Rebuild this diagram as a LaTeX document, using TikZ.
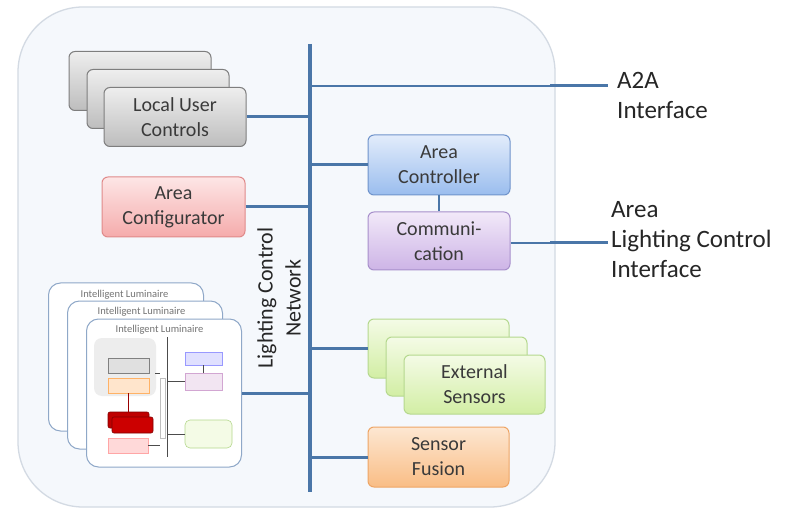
\documentclass[tikz,border=0pt]{standalone}
\usepackage{fontspec}
\setmainfont{Carlito}
\definecolor{busc}{HTML}{4A76A8}
\definecolor{txt}{HTML}{3A3A3A}
\definecolor{contf}{HTML}{F5F8FC}
\definecolor{contb}{HTML}{D3DAE3}
\definecolor{lumb}{HTML}{8FA8C8}
\definecolor{grT}{HTML}{EEEEEE}\definecolor{grB}{HTML}{BDBDBD}\definecolor{grD}{HTML}{7E7E7E}
\definecolor{piT}{HTML}{FDE6E6}\definecolor{piB}{HTML}{F5ABAB}\definecolor{piD}{HTML}{E08A8A}
\definecolor{blT}{HTML}{E2ECFB}\definecolor{blB}{HTML}{9ABDEE}\definecolor{blD}{HTML}{6F93CB}
\definecolor{puT}{HTML}{F2E9F9}\definecolor{puB}{HTML}{CDB4E6}\definecolor{puD}{HTML}{A78FCB}
\definecolor{gnT}{HTML}{F4FBE6}\definecolor{gnB}{HTML}{D2EEA4}\definecolor{gnD}{HTML}{B5D88E}
\definecolor{orT}{HTML}{FDE7D2}\definecolor{orB}{HTML}{F9BD85}\definecolor{orD}{HTML}{EEA565}
\begin{document}
\begin{tikzpicture}[x=1pt,y=-1pt,
  box/.style={draw, rounded corners=6pt, minimum width=142pt, minimum height=59pt,
    align=center, font=\fontsize{20}{25}\selectfont, text=txt, line width=1pt, inner sep=0pt},
  greybox/.style={box, draw=grD, top color=grT, bottom color=grB},
  pinkbox/.style={box, draw=piD, top color=piT, bottom color=piB},
  bluebox/.style={box, draw=blD, top color=blT, bottom color=blB},
  purplebox/.style={box, draw=puD, top color=puT, bottom color=puB},
  greenbox/.style={box, draw=gnD, top color=gnT, bottom color=gnB},
  orangebox/.style={box, draw=orD, top color=orT, bottom color=orB},
  busline/.style={draw=busc, line width=3.5pt},
  conn/.style={draw=busc, line width=3pt},
  thinconn/.style={draw=busc, line width=1.1pt},
  lumbox/.style={draw=lumb, fill=white, rounded corners=12pt, line width=1pt,
    minimum width=155pt, minimum height=148pt},
  lumtitle/.style={font=\fontsize{10.5}{12}\selectfont, text=black!55, inner sep=0pt},
  mini/.style={draw, line width=0.6pt, inner sep=0pt},
  minicon/.style={draw=black!70, line width=0.6pt},
  label/.style={font=\fontsize{25}{30}\selectfont, text=black!85, align=left, anchor=west, inner sep=0pt}
]
\useasboundingbox (0,0) rectangle (794,518);
\fill[white] (0,0) rectangle (794,518);
% container
\draw[draw=contb, fill=contf, line width=1.3pt, rounded corners=65pt] (18,7) rectangle (555,507);

% bus
\coordinate (bt) at (310,44);
\coordinate (bb) at (310,492);
\draw[busline] (bt) -- (bb);

% Local user controls
\node[greybox] (luc1) at (140,81) {};
\node[greybox] (luc2) at (158,99) {};
\node[greybox] (luc) at (175,117) {Local User\\Controls};
\draw[conn] (luc.east) -- (luc.east -| bt);

% A2A
\coordinate (a2aknee) at (550,86);
\coordinate (a2aend) at (608,86);
\draw[thinconn] (a2aknee -| bt) -- (a2aknee);
\draw[conn] (a2aknee) -- (a2aend);
\node[label] (a2a) at (617,95) {A2A\\Interface};

% Area configurator
\node[pinkbox, minimum width=143pt, minimum height=60pt] (cfg) at (173.5,207) {Area\\Configurator};
\draw[conn] (cfg.east) -- (cfg.east -| bt);

% Area controller & communication
\node[bluebox, minimum height=60pt] (ac) at (439,165) {Area\\Controller};
\node[purplebox, minimum height=58pt] (com) at (439,241) {Communi-\\cation};
\draw[conn] (ac.west -| bt) -- (ac.west);
\draw[draw=busc, line width=2.5pt] (ac.south) -- (com.north);
\coordinate (alknee) at (550,243);
\coordinate (alend) at (608,243);
\draw[thinconn] (com.east |- alknee) -- (alknee);
\draw[conn] (alknee) -- (alend);
\node[label] (alci) at (611,240) {Area\\Lighting Control\\Interface};

% Network label
\node[rotate=90, align=center, font=\fontsize{22}{28}\selectfont, text=black!85] (lcn) at (279,298) {Lighting Control\\Network};

% External sensors
\node[greenbox, minimum width=141pt] (es1) at (438.5,348.5) {};
\node[greenbox, minimum width=141pt] (es2) at (456.5,366.5) {};
\node[greenbox, minimum width=141pt] (es) at (474.5,384.5) {External\\Sensors};
\draw[conn] (es1.west -| bt) -- (es1.west);

% Sensor fusion
\node[orangebox, minimum width=141pt, minimum height=60pt] (sf) at (438.5,457) {Sensor\\Fusion};
\draw[conn] (sf.west -| bt) -- (sf.west);

% Intelligent luminaires
\node[lumbox] (lum1) at (126,357) {};
\node[lumtitle] (lt1) at (124.5,295) {Intelligent Luminaire};
\node[lumbox] (lum2) at (145,375) {};
\node[lumtitle] (lt2) at (141.5,312) {Intelligent Luminaire};
\node[lumbox] (lum) at (164,393) {};
\node[lumtitle] (lt3) at (159.5,330) {Intelligent Luminaire};
\draw[conn] (lum.east) -- (lum.east -| bt);

% luminaire internals (front)
\fill[black!7, rounded corners=8pt] (94,338) rectangle (156,396);
\node[mini, draw=black!50, fill=black!12, minimum width=41pt, minimum height=15pt] (drv) at (128.5,365.5) {};
\node[mini, draw=orange!60, fill=orange!20, minimum width=41pt, minimum height=15pt] (lc) at (128.5,385.5) {};
\node[mini, draw=red!50!black, fill=red!75!black, minimum width=41pt, minimum height=16pt, rounded corners=2pt] (led1) at (128.5,420) {};
\node[mini, draw=red!50!black, fill=red!80!black, minimum width=41pt, minimum height=16pt, rounded corners=2pt] (led) at (132.5,425) {};
\node[mini, draw=red!35, fill=red!15, minimum width=40pt, minimum height=15pt] (pw) at (128,445.5) {};
\node[mini, draw=blue!40, fill=blue!12, minimum width=37pt, minimum height=13pt] (ilc) at (203.5,358.5) {};
\node[mini, draw=violet!35, fill=violet!10, minimum width=37pt, minimum height=17pt] (icm) at (203.5,381.5) {};
\node[mini, draw=gnD, fill=gnT, minimum width=47pt, minimum height=28pt, rounded corners=5pt] (isn) at (208.5,434) {};
\coordinate (ibt) at (167,337);
\coordinate (ibb) at (167,457);
\draw[minicon] (ibt) -- (ibb);
\draw[draw=black!25, line width=0.5pt] (160,378) rectangle (165,438);
\draw[draw=red!60!black, line width=0.8pt] (lc.south) -- (led1.north);
\draw[minicon] (ilc.south) -- (icm.north);
\draw[minicon] (155,373) -- (160,373);
\draw[minicon] (ibt |- icm.west) -- (icm.west);
\draw[minicon] (ibt |- isn.west) -- (isn.west);
\draw[minicon] (pw.east) -- (160,445.5);
\end{tikzpicture}
\end{document}
